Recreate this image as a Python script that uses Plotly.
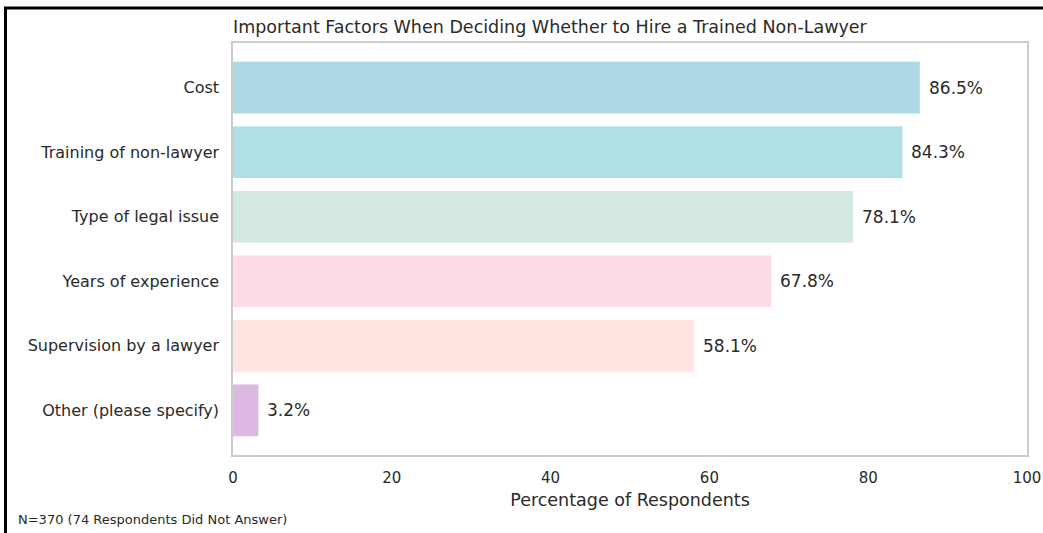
import plotly.graph_objects as go

categories = ["Cost", "Training of non-lawyer", "Type of legal issue",
              "Years of experience", "Supervision by a lawyer", "Other (please specify)"]
values = [86.5, 84.3, 78.1, 67.8, 58.1, 3.2]
colors = ["#ADD8E6", "#B0E0E6", "#D3E8DF", "#FCDCE5", "#FFE4E1", "#DDB8E3"]
x_ticks = [0, 20, 40, 60, 80, 100]

W, H = 1043, 533
L, R, T, B = 233, 16, 43, 78
pw, ph = W - L - R, H - T - B

def px_x(x):
    return (x - L) / pw

def px_y(y):
    return (H - B - y) / ph

FONT = "DejaVu Sans"
TXT = "#2A2A2A"

fig = go.Figure(go.Bar(
    x=values, y=categories, orientation="h",
    marker=dict(color=colors, line=dict(width=0)),
    hoverinfo="skip",
))

annotations = [
    dict(x=v, y=c, xref="x", yref="y", text=f"{v:.1f}%", showarrow=False,
         xanchor="left", yanchor="middle", xshift=7,
         font=dict(family=FONT, size=17, color=TXT))
    for v, c in zip(values, categories)
]
annotations.append(dict(
    x=px_x(16), y=px_y(519), xref="paper", yref="paper",
    text="N=370 (74 Respondents Did Not Answer)", showarrow=False,
    xanchor="left", yanchor="middle",
    font=dict(family=FONT, size=13, color=TXT)))

fig.update_layout(
    width=W, height=H,
    margin=dict(l=L, r=R, t=T, b=B, autoexpand=False),
    paper_bgcolor="white", plot_bgcolor="white",
    bargap=0.2,
    showlegend=False,
    title=dict(text="Important Factors When Deciding Whether to Hire a Trained Non-Lawyer",
               x=L / W, xref="container", xanchor="left",
               y=1 - 27 / H, yref="container", yanchor="middle",
               font=dict(family=FONT, size=17.5, color=TXT)),
    xaxis=dict(range=[0, 100], tickvals=x_ticks, ticktext=[str(t) for t in x_ticks],
               automargin=False,
               showgrid=False, zeroline=False,
               showline=True, linecolor="#CCCCCC", linewidth=1.5, mirror=True,
               ticks="", ticklabelstandoff=8,
               tickfont=dict(family=FONT, size=15, color=TXT),
               title=dict(text="Percentage of Respondents", standoff=8,
                          font=dict(family=FONT, size=17.5, color=TXT))),
    yaxis=dict(type="category", categoryorder="array", categoryarray=categories,
               range=[5.69, -0.69], automargin=False,
               showgrid=False, zeroline=False,
               showline=True, linecolor="#CCCCCC", linewidth=1.5, mirror=True,
               ticks="", ticklabelstandoff=9,
               tickfont=dict(family=FONT, size=16, color=TXT)),
    annotations=annotations,
    shapes=[
        dict(type="line", xref="paper", yref="paper",
             x0=px_x(4), x1=px_x(W + 5), y0=px_y(8), y1=px_y(8),
             line=dict(color="black", width=3)),
        dict(type="line", xref="paper", yref="paper",
             x0=px_x(5.5), x1=px_x(5.5), y0=px_y(7), y1=px_y(H + 5),
             line=dict(color="black", width=3)),
    ],
)

fig.write_html("out.html", config={"displayModeBar": False},
               post_script="document.body.style.margin='0';")
